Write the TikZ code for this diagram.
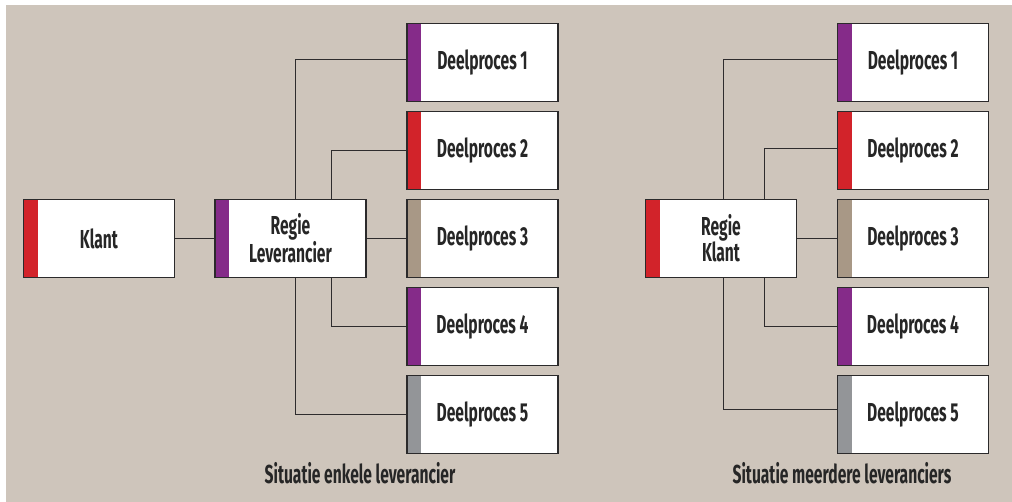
\documentclass[tikz,border=0pt]{standalone}
\usepackage{fontspec}
\setmainfont[FakeStretch=0.6]{Fira Sans}
\definecolor{bgbeige}{HTML}{CEC5BB}
\definecolor{boxline}{HTML}{2B2A2B}
\definecolor{linecol}{HTML}{2E2C2D}
\definecolor{stripred}{HTML}{D2232A}
\definecolor{strippurple}{HTML}{852B89}
\definecolor{striptan}{HTML}{A89886}
\definecolor{stripgray}{HTML}{939598}
\begin{document}
\begin{tikzpicture}[x=1pt,y=-1pt,
  procbox/.style={draw=boxline, line width=1.3pt, fill=white,
    minimum width=151pt, minimum height=78pt, inner sep=0pt, align=center,
    font=\fontsize{26}{26}\selectfont\bfseries, text=black!85,
    path picture={\fill[#1] (path picture bounding box.north west)
      rectangle ([xshift=14pt]path picture bounding box.south west);}},
  link/.style={draw=linecol, line width=1.2pt},
  capt/.style={anchor=base, font=\fontsize{26}{26}\selectfont\bfseries, text=black!85}]

% canvas
\useasboundingbox (0,0) rectangle (1012,502);
\fill[bgbeige] (6,5) rectangle (1012,502);

% ---- single supplier ----
\node[procbox=stripred]    (klant) at (99,238.5)    {Klant};
\node[procbox=strippurple] (regl)  at (290.5,238.5) {Regie\\[0pt]Leverancier};
\node[procbox=strippurple] (ld1) at (482.5,62.5)  {Deelproces 1};
\node[procbox=stripred]    (ld2) at (482.5,150.5) {Deelproces 2};
\node[procbox=striptan]    (ld3) at (482.5,238.5) {Deelproces 3};
\node[procbox=strippurple] (ld4) at (482.5,326.5) {Deelproces 4};
\node[procbox=stripgray]   (ld5) at (482.5,414.5) {Deelproces 5};

\draw[link] (klant.east) -- (regl.west);
\draw[link] (regl.east) -- (ld3.west);
\draw[link] ([xshift=5pt]regl.north) |- ([yshift=3pt]ld1.west);
\draw[link] ([xshift=41pt]regl.north) |- (ld2.west);
\draw[link] ([xshift=41pt]regl.south) |- (ld4.west);
\draw[link] ([xshift=5pt]regl.south) |- (ld5.west);

\node[capt] (capl) at (360,483) {Situatie enkele leverancier};

% ---- multiple suppliers ----
\node[procbox=stripred]    (regk) at (721,238.5) {Regie\\[0pt]Klant};
\node[procbox=strippurple] (rd1) at (913,62.5)  {Deelproces 1};
\node[procbox=stripred]    (rd2) at (913,150.5) {Deelproces 2};
\node[procbox=striptan]    (rd3) at (913,238.5) {Deelproces 3};
\node[procbox=strippurple] (rd4) at (913,326.5) {Deelproces 4};
\node[procbox=stripgray]   (rd5) at (913,414.5) {Deelproces 5};

\draw[link] (regk.east) -- (rd3.west);
\draw[link] ([xshift=2.5pt]regk.north) |- ([yshift=3pt]rd1.west);
\draw[link] ([xshift=43.5pt]regk.north) |- ([yshift=2pt]rd2.west);
\draw[link] ([xshift=43.5pt]regk.south) |- (rd4.west);
\draw[link] ([xshift=2.5pt]regk.south) |- ([yshift=5pt]rd5.west);

\node[capt] (capr) at (842,483) {Situatie meerdere leveranciers};
\end{tikzpicture}
\end{document}
